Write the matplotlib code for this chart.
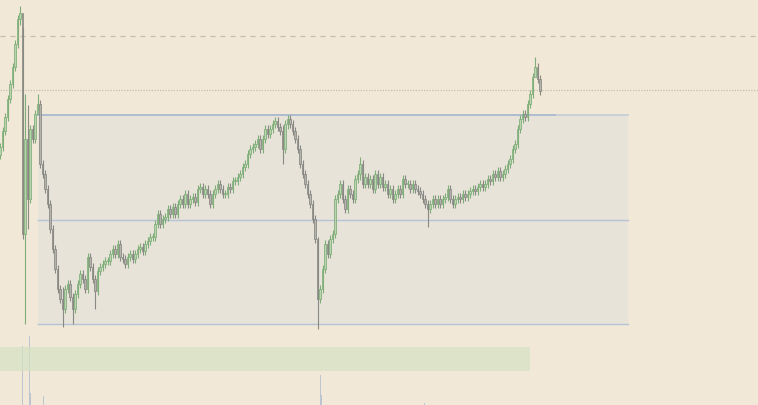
import matplotlib.pyplot as plt
from matplotlib.patches import Rectangle

# closes, one candle every 2.5 time units
closes = [258, 274, 288, 306, 321, 338, 361, 386, 392, 171,
          266, 206, 276, 266, 291, 301, 241, 231, 216, 201,
          176, 156, 136, 116, 106, 96, 116, 121, 108, 96,
          111, 121, 131, 126, 116, 148, 138, 126, 114, 134,
          138, 141, 144, 144, 151, 156, 151, 161, 148, 146,
          141, 148, 151, 146, 151, 156, 158, 154, 161, 164,
          168, 168, 181, 191, 181, 186, 188, 196, 191, 198,
          191, 201, 206, 201, 211, 201, 206, 208, 203, 216,
          218, 211, 216, 211, 201, 211, 216, 221, 216, 211,
          211, 218, 216, 224, 224, 228, 231, 238, 241, 251,
          256, 258, 261, 266, 256, 266, 276, 271, 276, 281,
          284, 278, 274, 256, 281, 286, 281, 274, 266, 256,
          241, 231, 221, 211, 201, 186, 166, 106, 116, 136,
          161, 151, 166, 171, 206, 211, 221, 206, 196, 216,
          211, 206, 226, 231, 241, 221, 228, 221, 226, 216,
          231, 221, 228, 218, 221, 211, 216, 206, 211, 216,
          211, 226, 221, 221, 216, 221, 216, 214, 211, 206,
          201, 196, 201, 206, 201, 206, 201, 206, 208, 216,
          206, 201, 206, 208, 206, 211, 208, 211, 214, 216,
          214, 218, 221, 218, 221, 226, 224, 231, 228, 234,
          228, 231, 236, 241, 246, 256, 261, 276, 286, 291,
          288, 301, 311, 328, 338, 326, 314]
first_open = 250
step = 2.5
# candles with long wicks: index -> (high, low)
wick_overrides = {8: (399, 380), 9: (378, 166), 10: (311, 81), 11: (300, 176),
                  15: (311, 295), 25: (118, 78), 29: (112, 81), 38: (130, 96),
                  113: (280, 241), 115: (290, 276), 127: (168, 76),
                  144: (248, 225), 171: (205, 178), 214: (348, 330)}
wick = 4

# volume bars
vol_x = [0, 22.5, 29.5, 30.5, 43.5, 61, 73, 76, 77, 154, 282, 292,
         320.5, 321.5, 327, 349, 352, 355, 364, 366, 368, 424.5]
vol_h = [4, 59, 69, 12, 9, 14, 6, 8, 5, 1, 12, 4,
         30, 10, 4, 3, 5, 4, 13, 10, 4, 2]

# range box and reference levels
box_x = (38, 628)
box_lo, box_mid, box_hi = 81, 185.5, 290
dash_level = 369
dot_level = 315
band = (34, 58)

bg = '#F1E8D7'
fig = plt.figure(figsize=(7.58, 4.06), dpi=100, facecolor=bg)
ax = fig.add_axes([0, 0, 1, 1])
ax.set_facecolor(bg)
ax.set_xlim(0, 758)
ax.set_ylim(0, 406)
ax.axis('off')

# range box
ax.add_patch(Rectangle((box_x[0], box_lo), box_x[1] - box_x[0], box_hi - box_lo,
                       facecolor='#E8E3D9', edgecolor='none', zorder=1))
for lv in (box_lo, box_mid):
    ax.plot(box_x, [lv, lv], color='#B4C4D6', lw=1, zorder=2)
ax.plot(box_x, [box_hi, box_hi], color='#C3CCD6', lw=1.2, zorder=2)
ax.plot([box_x[0], 555], [box_hi, box_hi], color='#A9BAD0', lw=1.2, zorder=2)

ax.axhline(dash_level, color='#C4BDB0', lw=0.9, ls=(0, (4, 4)), zorder=2)
ax.axhline(dot_level, color='#C4BDB0', lw=0.9, ls=(0, (1, 1.2)), zorder=2)

# volume
ax.bar(vol_x, vol_h, width=0.9, bottom=0, color='#BCC5CF', zorder=2)
ax.axhspan(band[0], band[1], xmin=0, xmax=530 / 758, color='#D5E2C2',
           alpha=0.7, lw=0, zorder=3)

# candles
prev = first_open
for i, c in enumerate(closes):
    o = prev
    x = i * step
    if i in wick_overrides:
        hi, lo = wick_overrides[i]
    else:
        hi, lo = max(o, c) + wick, min(o, c) - wick
    up = c >= o
    edge = '#74A870' if up else '#80807B'
    face = '#B9D4AE' if up else '#B3B3AC'
    ax.vlines(x, lo, hi, color=edge, lw=0.8, alpha=0.9, zorder=4)
    ax.bar(x, max(abs(c - o), 0.8), bottom=min(o, c), width=1.7,
           facecolor=face, edgecolor=edge, lw=0.5, zorder=5)
    prev = c

fig.savefig('out.png', dpi=100, facecolor=bg)
